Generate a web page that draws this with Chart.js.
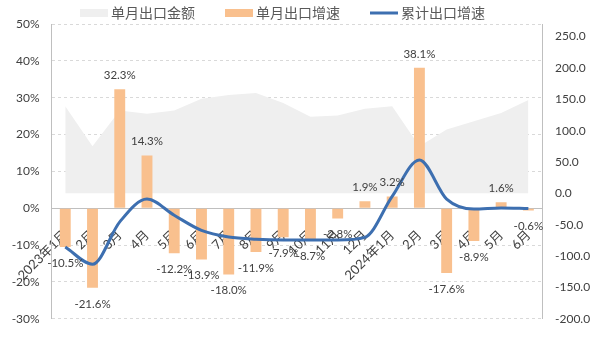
<!DOCTYPE html>
<html>
<head>
<meta charset="utf-8">
<script src="https://cdn.jsdelivr.net/npm/chart.js@4.4.1/dist/chart.umd.min.js"></script>
<style>
  body { margin: 0; background: #fff; }
</style>
</head>
<body>
<canvas id="myChart" width="597" height="339"></canvas>
<script>
var months = ["2023年1月", "2月", "3月", "4月", "5月", "6月", "7月", "8月", "9月", "10月", "11月", "12月", "2024年1月", "2月", "3月", "4月", "5月", "6月"];
var exportAmount = [139, 75, 132, 127, 132, 151, 157, 160, 144, 122, 124, 135, 139, 75, 102, 115, 128, 149];
var monthGrowth = [-10.5, -21.6, 32.3, 14.3, -12.2, -13.9, -18.0, -11.9, -7.9, -8.7, -2.8, 1.9, 3.2, 38.1, -17.6, -8.9, 1.6, -0.6];
var cumGrowth = [-10.5, -15.2, -3.7, 2.5, -1.9, -6.0, -7.8, -8.4, -8.6, -8.6, -8.6, -7.9, 3.2, 13.1, 2.5, -0.2, 0.1, -0.1];
var leftTicks = [-30, -20, -10, 0, 10, 20, 30, 40, 50];
var rightTicks = [-200, -150, -100, -50, 0, 50, 100, 150, 200, 250];

Chart.defaults.font.family = "Lato, 'Noto Sans CJK SC', sans-serif";
Chart.defaults.color = "#404040";

// bar value labels
var barLabels = {
  id: "barLabels",
  afterDatasetsDraw: function(chart) {
    var ctx = chart.ctx;
    var meta = chart.getDatasetMeta(1);
    ctx.save();
    ctx.font = "11.5px Lato, 'Noto Sans CJK SC'";
    ctx.fillStyle = "#404040";
    ctx.textAlign = "center";
    ctx.textBaseline = "middle";
    meta.data.forEach(function(bar, i) {
      var v = monthGrowth[i];
      var y = v >= 0 ? bar.y - 14 : bar.y + 16;
      ctx.fillText(v.toFixed(1) + "%", bar.x, y);
    });
    ctx.restore();
  }
};

// legend drawn by hand so it can sit tight on top
var topLegend = {
  id: "topLegend",
  afterDraw: function(chart) {
    var ctx = chart.ctx;
    var items = [2, 1, 0].map(function(i) { return chart.data.datasets[i]; });
    var x = 80, y = 13;
    ctx.save();
    ctx.font = "14px 'Noto Sans CJK SC'";
    ctx.textBaseline = "middle";
    items.forEach(function(ds) {
      if (ds.type == "bar" || ds.fill) {
        ctx.fillStyle = ds.backgroundColor;
        ctx.fillRect(x, y - 4, 28, 8);
      } else {
        ctx.strokeStyle = ds.borderColor;
        ctx.lineWidth = 3;
        ctx.beginPath();
        ctx.moveTo(x, y);
        ctx.lineTo(x + 28, y);
        ctx.stroke();
      }
      ctx.fillStyle = "#595959";
      ctx.fillText(ds.label, x + 31, y);
      x += 31 + ctx.measureText(ds.label).width + 30;
    });
    ctx.restore();
  }
};

var chart = new Chart(document.getElementById("myChart"), {
  data: {
    labels: months,
    datasets: [
      {
        type: "line",
        label: "累计出口增速",
        data: cumGrowth,
        yAxisID: "y",
        borderColor: "#3D6FB0",
        borderWidth: 3,
        pointRadius: 0,
        cubicInterpolationMode: "monotone",
        fill: false
      },
      {
        type: "bar",
        label: "单月出口增速",
        data: monthGrowth,
        yAxisID: "y",
        backgroundColor: "#F9C08E",
        categoryPercentage: 1,
        barPercentage: 0.4
      },
      {
        type: "line",
        label: "单月出口金额",
        data: exportAmount,
        yAxisID: "y2",
        backgroundColor: "#EFEFEF",
        borderWidth: 0,
        pointRadius: 0,
        tension: 0,
        fill: "origin"
      }
    ]
  },
  options: {
    responsive: false,
    animation: false,
    layout: { padding: { top: 24, bottom: 19, left: 0, right: 0 } },
    plugins: {
      legend: { display: false },
      tooltip: { enabled: false }
    },
    scales: {
      x: {
        type: "category",
        offset: true,
        position: { y: 0 },
        z: 1,
        grid: { display: true, drawOnChartArea: false, drawTicks: false },
        border: { display: true, color: "#BFBFBF" },
        ticks: { autoSkip: false, minRotation: 45, maxRotation: 45, padding: 19, font: { size: 13 } }
      },
      y: {
        position: "left",
        min: -30,
        max: 50,
        afterBuildTicks: function(s) { s.ticks = leftTicks.map(function(v) { return { value: v }; }); },
        afterFit: function(s) { s.width = 44; },
        grid: { color: "#D9D9D9", drawTicks: false },
        border: { display: true, color: "#BFBFBF", dash: [3, 3] },
        ticks: { padding: 12, font: { size: 12 }, callback: function(v) { return v + "%"; } }
      },
      y2: {
        position: "right",
        min: -200,
        max: 270,
        afterBuildTicks: function(s) { s.ticks = rightTicks.map(function(v) { return { value: v }; }); },
        afterFit: function(s) { s.width = 55; },
        grid: { drawOnChartArea: false, drawTicks: false },
        border: { display: true, color: "#BFBFBF" },
        ticks: { padding: 13, font: { size: 12 }, callback: function(v) { return v.toFixed(1); } }
      }
    }
  },
  plugins: [barLabels, topLegend]
});
</script>
</body>
</html>
